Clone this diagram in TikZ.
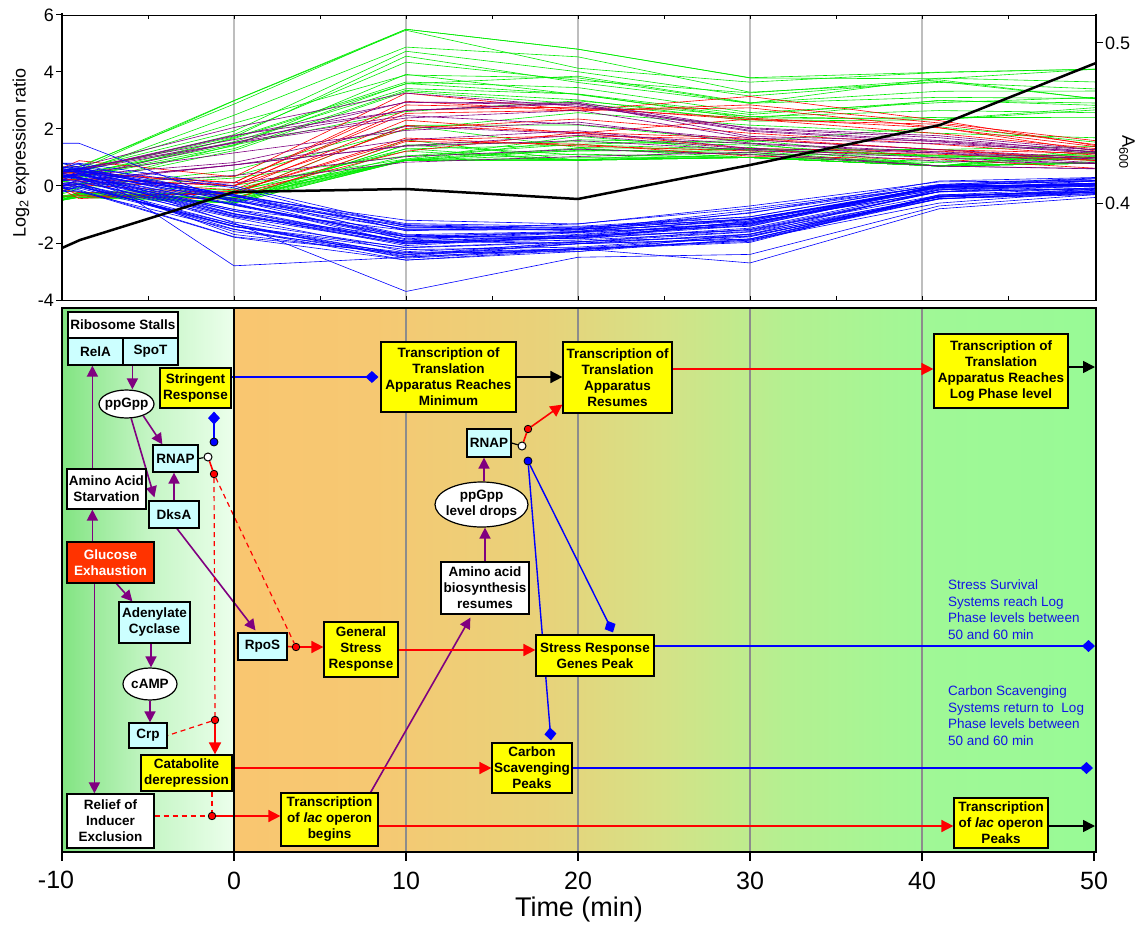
\documentclass[tikz,border=0pt]{standalone}
\usepackage{fontspec}
\setmainfont{Liberation Sans}
\usetikzlibrary{shapes.geometric,arrows.meta}
\definecolor{purp}{RGB}{128,0,128}
\definecolor{cyanbox}{RGB}{204,255,255}
\definecolor{ybox}{RGB}{255,255,0}
\definecolor{gluc}{RGB}{255,51,0}
\definecolor{gline}{RGB}{0,235,0}
\definecolor{gridg}{RGB}{190,190,190}
\definecolor{gridl}{RGB}{140,140,140}
\definecolor{bluetxt}{RGB}{20,20,230}
\definecolor{sA}{RGB}{249,198,112}
\definecolor{sB}{RGB}{246,200,114}
\definecolor{sC}{RGB}{232,210,122}
\definecolor{sD}{RGB}{212,226,135}
\definecolor{sE}{RGB}{180,240,145}
\definecolor{sF}{RGB}{160,248,150}
\definecolor{sG}{RGB}{152,250,150}
\definecolor{lA}{RGB}{130,228,130}
\definecolor{lB}{RGB}{196,245,196}
\definecolor{lC}{RGB}{236,255,236}
\pgfdeclarehorizontalshading{timeshade}{100bp}{color(0bp)=(sA); color(25bp)=(sA); color(33bp)=(sB); color(43bp)=(sC); color(50bp)=(sD); color(57bp)=(sE); color(65bp)=(sF); color(75bp)=(sG); color(100bp)=(sG)}
\pgfdeclarehorizontalshading{leftshade}{100bp}{color(0bp)=(lA); color(25bp)=(lA); color(50bp)=(lB); color(75bp)=(lC); color(100bp)=(lC)}
\pgfdeclarelayer{bgl}
\pgfdeclarelayer{conn}
\pgfsetlayers{bgl,conn,main}
\def\tpts{{62,79,234,406,578,750,939,1096}}
\def\glo{{-0.5,-0.4,-0.6,0.9,0.9,1.0,0.7,0.8}}
\def\ghi{{0.8,0.8,3.0,5.5,4.8,3.8,4.3,4.1}}
\def\rlo{{-0.6,-0.6,-0.5,0.9,1.0,0.9,0.8,0.6}}
\def\rhi{{1.3,1.3,0.6,3.9,3.9,3.9,3.0,2.0}}
\def\plo{{-0.1,0.0,0.1,0.7,1.0,1.0,0.7,0.6}}
\def\phi{{0.7,0.7,2.2,3.3,3.2,2.1,1.8,1.4}}
\def\blo{{-0.2,-0.2,-1.8,-2.6,-2.3,-2.0,-0.5,-0.3}}
\def\bhi{{0.8,0.8,0.0,-1.2,-1.3,-0.7,0.2,0.3}}
\def\boa{{1.5,1.5,-0.6,-2.0,-1.9,-1.6,-0.2,0.1}}
\def\bob{{0.8,0.8,-2.8,-2.5,-2.2,-1.9,-0.6,-0.2}}
\def\boc{{0.5,0.5,-1.3,-3.7,-2.5,-2.4,-0.7,-0.3}}
\def\bod{{0.3,0.3,-1.7,-2.4,-2.2,-2.7,-0.8,-0.4}}
% #1 count, #2 colour, #3 low values, #4 high values, #5 jitter, #6 exponent
\newcommand\exgroup[6]{%
  \foreach \n in {1,...,#1}{%
    \pgfmathsetmacro\rr{rnd^#6}%
    \gdef\pth{}%
    \foreach \k in {0,...,7}{%
      \pgfmathsetmacro\vv{186-28.5*(#3[\k]+(#4[\k]-#3[\k])*max(0,min(1,\rr+#5*rand)))}%
      \pgfmathsetmacro\xx{\tpts[\k]}%
      \xdef\pth{\pth (\xx,\vv)}%
    }%
    \edef\tmp{\noexpand\draw[#2,line width=0.6pt,line join=round] plot coordinates {\pth};}\tmp
  }%
}
\begin{document}
\begin{tikzpicture}[x=1pt,y=-1pt,
 bx/.style={draw=black, line width=1.2pt, align=center, inner sep=1pt, font=\bfseries\fontsize{13.5}{16}\selectfont},
 ybx/.style={bx, fill=ybox},
 cbx/.style={bx, fill=cyanbox},
 wbx/.style={bx, fill=white},
 ell/.style={bx, ellipse, fill=white, inner ysep=0pt, inner xsep=-4pt},
 parrow/.style={draw=purp, line width=1.6pt, -{Triangle[length=11pt,width=11pt]}},
 rarrow/.style={draw=red, line width=1.6pt, -{Triangle[length=12pt,width=12pt]}},
 rline/.style={draw=red, line width=1.6pt},
 rdash/.style={draw=red, line width=1.2pt, dash pattern=on 5pt off 4pt},
 bline/.style={draw=blue, line width=1.4pt},
 bdia/.style={bline, -{Diamond[length=13pt,width=12pt]}},
 karrow/.style={draw=black, line width=1.6pt, -{Triangle[length=12pt,width=12pt]}},
 rdot/.style={circle, draw=black, fill=red, line width=0.8pt, minimum size=7.5pt, inner sep=0pt},
 bdot/.style={circle, draw=black, fill=blue, line width=0.8pt, minimum size=8pt, inner sep=0pt},
 wdot/.style={circle, draw=black, fill=white, line width=1pt, minimum size=8pt, inner sep=0pt},
 ann/.style={anchor=north west, align=left, text=bluetxt, inner sep=0pt, font=\fontsize{13.5}{16.5}\selectfont},
 axlab/.style={font=\fontsize{18}{20}\selectfont},
 tlab/.style={font=\fontsize{25}{28}\selectfont}
]
\useasboundingbox (0,0) rectangle (1145,928);
% ===== top plot =====
\foreach \tm in {0,10,20,30,40} \draw[gridg, line width=1.5pt] ({234+17.2*\tm},15) -- ({234+17.2*\tm},300);
\begin{scope}
\clip (62,15) rectangle (1096,300);
\pgfmathsetseed{7}
\exgroup{38}{gline}{\glo}{\ghi}{0.12}{2.4}
\exgroup{12}{red}{\rlo}{\rhi}{0.12}{0.8}
\exgroup{14}{purp}{\plo}{\phi}{0.12}{1.0}
\exgroup{40}{blue}{\blo}{\bhi}{0.15}{1.0}
\exgroup{1}{blue}{\boa}{\boa}{0}{1}
\exgroup{1}{blue}{\bob}{\bob}{0}{1}
\exgroup{1}{blue}{\boc}{\boc}{0}{1}
\exgroup{1}{blue}{\bod}{\bod}{0}{1}
\draw[black, line width=2.5pt, line join=round] (62,248) -- (80,240) -- (234,192) -- (406,189) -- (578,199) -- (750,165) -- (940,125) -- (1096,63);
\end{scope}
\draw[line width=0.8pt] (62,15) -- (1096,15);
\draw[line width=0.8pt] (62,300) -- (1096,300);
\draw[line width=2.5pt] (62,13) -- (62,301);
\draw[line width=2pt] (1096,14) -- (1096,301);
\foreach \tm in {-5,0,...,45} {
  \draw[line width=0.8pt] ({234+17.2*\tm},15) -- ({234+17.2*\tm},19);
  \draw[line width=0.8pt] ({234+17.2*\tm},300) -- ({234+17.2*\tm},296);
}
\foreach \v in {6,4,2,0,-2,-4} {
  \draw[line width=1pt] (56,{186-28.5*\v}) -- (62,{186-28.5*\v});
  \node[axlab, anchor=east, inner sep=0pt] at (54,{186-28.5*\v}) {\v};
}
\draw[line width=1pt] (1096,43) -- (1103,43);
\draw[line width=1pt] (1096,203) -- (1103,203);
\node[axlab, anchor=west, inner sep=0pt] at (1105,43) {0.5};
\node[axlab, anchor=west, inner sep=0pt] at (1105,203) {0.4};
\node[axlab, rotate=-90] at (1127,152) {A\textsubscript{600}};
\node[axlab, rotate=90] at (21,153) {Log\textsubscript{2} expression ratio};
% ===== lower panel background =====
\begin{pgfonlayer}{bgl}
\shade[shading=leftshade] (62,308) rectangle (234,852);
\shade[shading=timeshade] (234,308) rectangle (1096,852);
\foreach \tm in {10,20,30,40} \draw[gridl, line width=1.2pt] ({234+17.2*\tm},308) -- ({234+17.2*\tm},852);
\end{pgfonlayer}
\draw[line width=1.8pt] (62,308) rectangle (1096,852);
\draw[line width=1.5pt] (234,308) -- (234,852);
\draw[line width=2.5pt] (61,852) -- (1097,852);
\foreach \tm in {-10,0,...,50} \draw[line width=1.5pt] ({234+17.2*\tm},852) -- ({234+17.2*\tm},861);
\node[tlab] at (56,880) {-10};
\foreach \tm in {0,10,20,30,40,50} \node[tlab] at ({234+17.2*\tm},881) {\tm};
\node[font=\fontsize{27}{30}\selectfont] at (579,910) {Time (min)};
% ===== nodes =====
\node[wbx, minimum width=110pt, minimum height=26pt] (ribo) at (123,325) {Ribosome Stalls};
\node[cbx, minimum width=55pt, minimum height=27pt] (relA) at (95.5,351.5) {RelA};
\node[cbx, minimum width=55pt, minimum height=27pt] (spoT) at (150.5,351.5) {SpoT};
\node[ybx, minimum width=71pt, minimum height=40pt] (stringent) at (195.5,388) {Stringent\\Response};
\node[ell, minimum width=55pt, minimum height=28pt] (ppgpp) at (126.5,404) {ppGpp};
\node[cbx, minimum width=45pt, minimum height=27pt] (rnapA) at (175.5,458.5) {RNAP};
\node[wbx, minimum width=79pt, minimum height=40pt] (aas) at (106.5,489) {Amino Acid\\Starvation};
\node[cbx, minimum width=50pt, minimum height=27pt] (dksa) at (174,514.5) {DksA};
\node[bx, fill=gluc, text=white, minimum width=87pt, minimum height=41pt] (gluc) at (110.5,562.5) {Glucose\\Exhaustion};
\node[cbx, minimum width=71pt, minimum height=41pt] (adenyl) at (154.5,622.5) {Adenylate\\Cyclase};
\node[ell, minimum width=54pt, minimum height=32pt] (camp) at (150,684) {cAMP};
\node[cbx, minimum width=38pt, minimum height=25pt] (crp) at (148,735.5) {Crp};
\node[ybx, minimum width=91pt, minimum height=36pt] (catab) at (186.5,773) {Catabolite\\derepression};
\node[wbx, minimum width=87pt, minimum height=54pt] (relief) at (110.5,821) {Relief of\\Inducer\\Exclusion};
\node[cbx, minimum width=49pt, minimum height=27pt] (rpos) at (262.5,646.5) {RpoS};
\node[ybx, minimum width=74pt, minimum height=55pt] (gsr) at (361,649.5) {General\\Stress\\Response};
\node[ybx, minimum width=118pt, minimum height=41pt] (srgp) at (595,655.5) {Stress Response\\Genes Peak};
\node[wbx, minimum width=88pt, minimum height=52pt] (aab) at (485,588) {Amino acid\\biosynthesis\\resumes};
\node[ell, minimum width=93pt, minimum height=45pt] (ppdrop) at (481.5,504.5) {ppGpp\\level drops};
\node[ybx, minimum width=80pt, minimum height=50pt] (carbon) at (532,768) {Carbon\\Scavenging\\Peaks};
\node[ybx, minimum width=97pt, minimum height=53pt] (lacb) at (329.5,819.5) {Transcription\\of \textit{lac} operon\\begins};
\node[ybx, minimum width=135pt, minimum height=70pt] (tmin) at (448.5,377) {Transcription of\\Translation\\Apparatus Reaches\\Minimum};
\node[cbx, minimum width=44pt, minimum height=28pt] (rnapB) at (489,443) {RNAP};
\node[ybx, minimum width=109pt, minimum height=71pt] (tres) at (617.5,377.5) {Transcription of\\Translation\\Apparatus\\Resumes};
\node[ybx, minimum width=134pt, minimum height=74pt] (tlog) at (1001,371) {Transcription of\\Translation\\Apparatus Reaches\\Log Phase level};
\node[ybx, minimum width=94pt, minimum height=50pt] (lacp) at (1001,823) {Transcription\\of \textit{lac} operon\\Peaks};
\node[ann] (annS) at (948,580) {Stress Survival\\Systems reach Log\\Phase levels between\\50 and 60 min};
\node[ann] (annC) at (948,686) {Carbon Scavenging\\Systems return to \ Log\\Phase levels between\\50 and 60 min};
% dots
\node[wdot] (wcA) at (208,457) {};
\node[bdot] (bdA) at (214,442) {};
\node[rdot] (rdA) at (214,474) {};
\node[rdot] (rdB) at (215,720) {};
\node[rdot] (rdC) at (212,816) {};
\node[rdot] (rdR) at (296,647) {};
\node[wdot] (wcB) at (522,446) {};
\node[rdot] (rdM) at (528,429) {};
\node[bdot] (bdM) at (528,461) {};
\coordinate (sseEnd) at (1095,646);
\coordinate (cseEnd) at (1093,768);
\coordinate (tlogEnd) at (1095,367);
\coordinate (lacpEnd) at (1095,826);
% ===== connectors =====
\begin{pgfonlayer}{conn}
\coordinate (pS) at ([xshift=10pt]spoT.south west);
\coordinate (pC) at ([xshift=-3.5pt]adenyl.south);
\coordinate (pD) at ([xshift=2.5pt]ppdrop.north);
\draw[parrow] ([xshift=26pt]aas.north west) -- ([xshift=25pt]relA.south west);
\draw[parrow] ([xshift=26pt]gluc.north west) -- ([xshift=26pt]aas.south west);
\draw[parrow] ([xshift=28pt]gluc.south west) -- ([xshift=28pt]relief.north west);
\draw[parrow] ([xshift=50pt]gluc.south west) -- ([xshift=14pt]adenyl.north west);
\draw[parrow] (pS) -- (pS |- ppgpp.north);
\draw[parrow] (ppgpp.-35) -- ([xshift=10pt]rnapA.north west);
\draw[parrow] (ppgpp.-72) -- ([xshift=6pt,yshift=3pt]dksa.north west);
\draw[parrow] (dksa.north) -- (dksa.north |- rnapA.south);
\draw[parrow] ([xshift=3pt]dksa.south) -- ([xshift=-7pt,yshift=2pt]rpos.north);
\draw[parrow] (pC) -- (pC |- camp.north);
\draw[parrow] (camp.south) -- (camp.south |- crp.north);
\draw[parrow] (aab.north) -- (aab.north |- ppdrop.south);
\draw[parrow] (pD) -- (pD |- rnapB.south);
\draw[parrow] ([xshift=-8pt]lacb.north east) -- ([xshift=30pt,yshift=-3pt]aab.south west);
% red
\coordinate (cE) at ([yshift=5pt]catab.east);
\coordinate (lE) at ([yshift=-6.5pt]lacb.east);
\coordinate (tE) at ([yshift=8.5pt]tres.east);
\coordinate (gE) at ([yshift=-0.5pt]gsr.east);
\draw[rline] (wcA) -- (rdA);
\draw[rdash] (rdA) -- (rdB);
\draw[rdash] (rdA) -- (rdR);
\draw[rdash] (rdB) -- (crp.east);
\draw[rarrow] (rdB) -- (rdB |- catab.north);
\draw[rdash] (rdC |- catab.south) -- (rdC);
\draw[rdash] (relief.east |- rdC) -- (rdC);
\draw[rarrow] (rdC) -- (rdC -| lacb.west);
\draw[rline] (rpos.east) -- (rdR);
\draw[rarrow] (rdR) -- (rdR -| gsr.west);
\draw[rarrow] (gE) -- (gE -| srgp.west);
\draw[rarrow] (cE) -- (cE -| carbon.west);
\draw[rarrow] (lE) -- (lE -| lacp.west);
\draw[rline] (wcB) -- (rdM);
\draw[rarrow] (rdM) -- ([yshift=9pt]tres.south west);
\draw[rarrow] (tE) -- (tE -| tlog.west);
% blue
\coordinate (sR) at ([yshift=11pt]stringent.east);
\coordinate (sRt) at (sR -| tmin.west);
\coordinate (bA) at (bdA |- stringent.south);
\coordinate (sE) at ([yshift=9.5pt]srgp.east);
\draw[bdia] (sR) -- ([xshift=-2pt]sRt);
\draw[bdia] (bdA) -- ([yshift=-3pt]bA);
\draw[bdia] (bdM) -- ([xshift=19pt,yshift=2pt]carbon.north);
\draw[bdia] (bdM) -- ([xshift=18pt,yshift=2pt]srgp.north);
\draw[bdia] (sE) -- (sseEnd);
\draw[bdia] (carbon.east) -- (cseEnd);
% black
\coordinate (tL) at ([yshift=4pt]tlog.east);
\coordinate (lP) at ([yshift=-3pt]lacp.east);
\draw[karrow] (tmin.east) -- (tmin.east -| tres.west);
\draw[karrow] (tL) -- (tlogEnd);
\draw[karrow] (lP) -- (lacpEnd);
\draw[line width=1.2pt] (rnapA.east) -- (wcA);
\draw[line width=1.2pt] (rnapB.east) -- (wcB);
\end{pgfonlayer}
\end{tikzpicture}
\end{document}
